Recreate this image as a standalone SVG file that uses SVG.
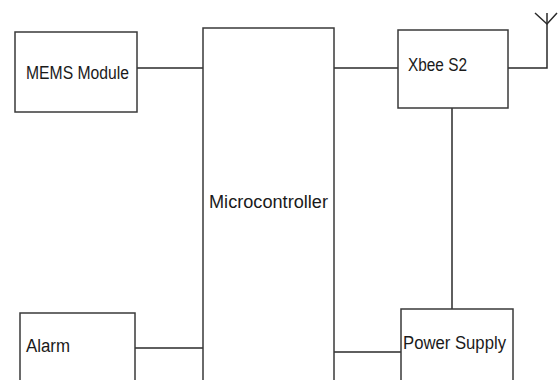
<svg xmlns="http://www.w3.org/2000/svg" width="558" height="380" viewBox="0 0 558 380">
<style>
.box{fill:#fff;stroke:#3a3a3a;stroke-width:1.5}
.ln{fill:none;stroke:#2a2a2a;stroke-width:1.5}
.t{font-family:"Liberation Sans",Arial,sans-serif;font-size:18px;fill:#1a1a1a}
</style>
<rect width="558" height="380" fill="#fff"/>
<g id="connectors">
<line class="ln" x1="137" y1="68" x2="203" y2="68"/>
<line class="ln" x1="334" y1="68" x2="398" y2="68"/>
<polyline class="ln" points="508,68 547,68 547,13"/>
<polyline class="ln" points="535,13 547,24 557,13"/>
<line class="ln" x1="452" y1="108" x2="452" y2="309"/>
<line class="ln" x1="135" y1="348" x2="203" y2="348"/>
<line class="ln" x1="334" y1="352" x2="401" y2="352"/>
</g>
<g id="mems">
<rect class="box" x="15" y="32" width="122" height="80"/>
<text class="t" x="26" y="79" textLength="103" lengthAdjust="spacingAndGlyphs">MEMS Module</text>
</g>
<g id="micro">
<rect class="box" x="203" y="28" width="131" height="360"/>
<text class="t" x="209" y="208" textLength="119" lengthAdjust="spacingAndGlyphs">Microcontroller</text>
</g>
<g id="xbee">
<rect class="box" x="398" y="30" width="110" height="78"/>
<text class="t" x="408" y="71" textLength="59" lengthAdjust="spacingAndGlyphs">Xbee S2</text>
</g>
<g id="alarm">
<rect class="box" x="20" y="313" width="115" height="80"/>
<text class="t" x="26" y="352" textLength="44" lengthAdjust="spacingAndGlyphs">Alarm</text>
</g>
<g id="power">
<rect class="box" x="401" y="309" width="112" height="80"/>
<text class="t" x="403" y="349" textLength="103" lengthAdjust="spacingAndGlyphs">Power Supply</text>
</g>
</svg>
